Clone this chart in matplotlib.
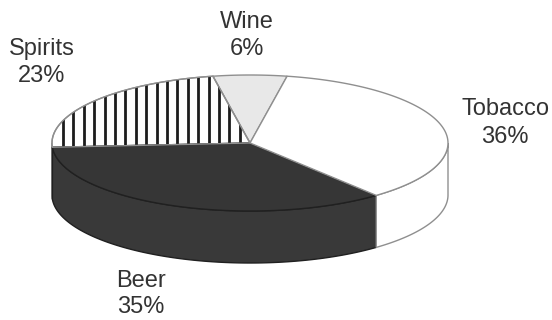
import numpy as np
import matplotlib.pyplot as plt
from matplotlib.patches import Polygon

# share of spending by category, going counter-clockwise from the top
labels = ['Wine', 'Spirits', 'Beer', 'Tobacco']
shares = [6, 23, 35, 36]

top_colors = ['#e8e8e8', 'white', '#363636', 'white']
side_colors = ['#d0d0d0', 'white', '#393939', 'white']
edge_colors = ['#8f8f8f', '#8f8f8f', '#202020', '#8f8f8f']

# where the name and the percentage sit: (x, name baseline, percent baseline)
label_xy = [(247, 28, 55), (42, 55, 82), (141, 287, 313), (505, 115, 143)]

# ellipse geometry in pixel units
cx, cy, rx, ry, depth = 250, 143, 198, 68, 52

fig = plt.figure(figsize=(5.52, 3.2), dpi=100)
ax = fig.add_axes([0, 0, 1, 1])
ax.set_xlim(0, 552)
ax.set_ylim(320, 0)
ax.axis('off')


def arc(t1, t2, dy=0.0, n=120):
    t = np.radians(np.linspace(t1, t2, n))
    return np.column_stack([cx + rx * np.cos(t), cy - ry * np.sin(t) + dy])


# first slice is centred on the top of the pie
start = 90 - shares[0] * 3.6 / 2
bounds = start + np.concatenate([[0], np.cumsum(shares)]) * 3.6

# side walls, only the front half (180..360 degrees) shows
for i in range(len(shares)):
    t1, t2 = bounds[i], bounds[i + 1]
    lo, hi = max(t1, 180), min(t2, 360)
    if hi <= lo:
        continue
    pts = np.vstack([arc(lo, hi), arc(hi, lo, depth)])
    ax.add_patch(Polygon(pts, closed=True, facecolor=side_colors[i],
                         edgecolor=edge_colors[i], lw=1.0, zorder=1))

# top faces
tops = []
for i in range(len(shares)):
    pts = np.vstack([[cx, cy], arc(bounds[i], bounds[i + 1])])
    p = Polygon(pts, closed=True, facecolor=top_colors[i],
                edgecolor=edge_colors[i], lw=1.0, zorder=2)
    ax.add_patch(p)
    tops.append(p)

# vertical hatching on the spirits slice
spirits = tops[labels.index('Spirits')]
for x in np.arange(63, cx, 10.4):
    ln, = ax.plot([x, x], [cy - ry - 5, cy + 5], color='#1c1c1c', lw=2.0,
                  zorder=3, solid_capstyle='butt')
    ln.set_clip_path(spirits)

# redraw spirits outline above the hatch
ax.add_patch(Polygon(spirits.get_xy(), closed=True, fill=False,
                     edgecolor='#8f8f8f', lw=1.0, zorder=4))

for name, s, (x, y1, y2) in zip(labels, shares, label_xy):
    for txt, y in ((name, y1), (f'{s}%', y2)):
        ax.text(x, y, txt, ha='center', va='baseline', fontsize=17,
                family=['Liberation Sans', 'DejaVu Sans'], color='#333333')

fig.savefig('out.png', dpi=100)
